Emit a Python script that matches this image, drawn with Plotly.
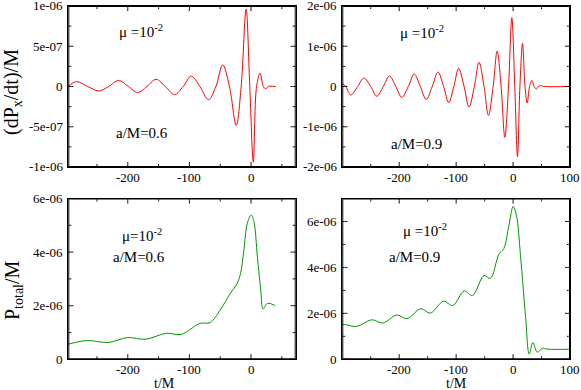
import plotly.graph_objects as go

# --- data ---
# top-left: dPx/dt, a/M = 0.6  (values in units of 1e-7)
t_px06 = [-297, -283, -265, -247, -231, -215, -199, -184, -169, -154, -139, -124, -110,
          -97, -83, -69, -57, -46, -35, -24, -16, -8, -2, 3.7, 9, 14.7, 20, 24, 28, 31, 40]
px06 = [0.0, 0.6, 0.0, -0.55, 0.0, 0.75, 0.0, -0.75, 0.0, 0.9, 0.0, -1.0, 0.0,
        1.3, 0.0, -1.65, 0.0, 2.7, 0.0, -4.85, 0.0, 9.6, 0.0, -9.4, 0.0, 1.65, 0.0, -0.3, 0.0, 0.05, 0.0]

# top-right: dPx/dt, a/M = 0.9  (units of 1e-6)
t_px09 = [-300, -294, -285, -273, -262, -250, -239.5, -228, -217, -206, -195.5, -184,
          -173.7, -163, -152.6, -142, -132, -122, -113, -104, -95.6, -86, -77.4, -68,
          -59.8, -51, -43.3, -35, -28, -21, -14.5, -8, -2.2, 3, 7.8, 12, 16.6, 21,
          24.8, 29, 33, 37, 40.7, 44, 48.3, 55, 100]
px09 = [0.08, 0.0, -0.21, 0.0, 0.21, 0.0, -0.24, 0.0, 0.26, 0.0, -0.27, 0.0,
        0.31, 0.0, -0.32, 0.0, 0.36, 0.0, -0.40, 0.0, 0.45, 0.0, -0.51, 0.0,
        0.60, 0.0, -0.72, 0.0, 0.88, 0.0, -1.26, 0.0, 1.71, 0.0, -1.74, 0.0, 1.07, 0.0,
        -0.41, 0.0, 0.15, 0.0, -0.06, 0.0, 0.02, 0.0, 0.0]

# bottom-left: P_total, a/M = 0.6  (units of 1e-6)
t_pt06 = [-297, -266.6, -231, -200.8, -170.6, -137.7, -113, -83, -66.5, -50, -33.6,
          -22.6, -17, -11.6, -6, 0.4, 4.8, 10.3, 15.8, 19.6, 26.7, 38.8]
pt06 = [0.56, 0.70, 0.63, 0.81, 0.75, 0.97, 0.93, 1.34, 1.37, 1.84, 2.46,
        2.83, 3.2, 4.07, 5.07, 5.38, 5.13, 3.83, 2.58, 1.88, 2.09, 2.01]

# bottom-right: P_total, a/M = 0.9  (units of 1e-6)
t_pt09 = [-300, -292, -274.7, -248.3, -228.9, -204.3, -186.6, -162, -145.5, -122, -106,
          -85.6, -71.5, -51, -39.8, -25, -16.3, -7.5, 0.2, 6, 13.1, 21.9, 28.4, 34.8,
          42.5, 51.3, 60, 100]
pt09 = [1.53, 1.50, 1.43, 1.72, 1.58, 1.93, 1.77, 2.2, 2.01, 2.53, 2.34,
        2.98, 2.77, 3.65, 3.52, 4.57, 4.82, 5.81, 6.66, 6.25, 4.5, 1.87, 0.23, 0.73,
        0.31, 0.48, 0.44, 0.44]

# tick values / labels
xl_ticks = [-200, -100, 0]
xr_ticks = [-200, -100, 0, 100]
x_minor = [-250, -150, -50, 50]
y_tl_ticks = [-1e-6, -5e-7, 0, 5e-7, 1e-6]
y_tl_text = ["-1e-06", "-5e-07", "0", "5e-07", "1e-06"]
y_tl_minor = [-7.5e-7, -2.5e-7, 2.5e-7, 7.5e-7]
y_tr_ticks = [-2e-6, -1e-6, 0, 1e-6, 2e-6]
y_tr_text = ["-2e-06", "-1e-06", "0", "1e-06", "2e-06"]
y_tr_minor = [-1.5e-6, -5e-7, 5e-7, 1.5e-6]
y_b_ticks = [0, 2e-6, 4e-6, 6e-6]
y_b_text = ["0", "2e-06", "4e-06", "6e-06"]
y_b_minor = [1e-6, 3e-6, 5e-6]

W, H = 581, 390
FONT = "Liberation Serif"
RED = "#ff0000"
GREEN = "#009600"
INK = "#000000"   # frame / tick colour

# panel frames, measured in pixels on the reference
LEFT_PX, RIGHT_PX = (68.3, 295.7), (342.3, 570.0)
TOP_PX, BOT_PX = (6.0, 167.0), (198.5, 359.3)

panels = [
    dict(n="", xr=[-296.5, 72.5], yr=[-1e-6, 1e-6], xpx=LEFT_PX, ypx=TOP_PX,
         xt=xl_ticks, xm=x_minor, yt=y_tl_ticks, ytext=y_tl_text, ym=y_tl_minor,
         x=t_px06, y=[v * 1e-7 for v in px06], color=RED),
    dict(n="2", xr=[-300, 100], yr=[-2e-6, 2e-6], xpx=RIGHT_PX, ypx=TOP_PX,
         xt=xr_ticks, xm=x_minor, yt=y_tr_ticks, ytext=y_tr_text, ym=y_tr_minor,
         x=t_px09, y=[v * 1e-6 for v in px09], color=RED),
    dict(n="3", xr=[-296.5, 72.5], yr=[0, 6e-6], xpx=LEFT_PX, ypx=BOT_PX,
         xt=xl_ticks, xm=x_minor, yt=y_b_ticks, ytext=y_b_text, ym=y_b_minor,
         x=t_pt06, y=[v * 1e-6 for v in pt06], color=GREEN),
    dict(n="4", xr=[-300, 100], yr=[0, 7e-6], xpx=RIGHT_PX, ypx=BOT_PX,
         xt=xr_ticks, xm=x_minor, yt=y_b_ticks, ytext=y_b_text, ym=y_b_minor,
         x=t_pt09, y=[v * 1e-6 for v in pt09], color=GREEN),
]

fig = go.Figure()
layout_axes = {}

for p in panels:
    xa, ya = "x" + p["n"], "y" + p["n"]
    x0, x1 = p["xr"]
    y0, y1 = p["yr"]
    wpx = p["xpx"][1] - p["xpx"][0]
    hpx = p["ypx"][1] - p["ypx"][0]
    ux = (x1 - x0) / wpx   # data units per pixel
    uy = (y1 - y0) / hpx

    layout_axes["xaxis" + p["n"]] = dict(
        anchor=ya, range=p["xr"], domain=[p["xpx"][0] / W, p["xpx"][1] / W],
        showgrid=False, zeroline=False, showline=True, linecolor=INK, linewidth=1,
        mirror=True, showticklabels=False, ticks="")
    layout_axes["yaxis" + p["n"]] = dict(
        anchor=xa, range=p["yr"], domain=[1 - p["ypx"][1] / H, 1 - p["ypx"][0] / H],
        showgrid=False, zeroline=False, showline=True, linecolor=INK, linewidth=1,
        mirror=True, showticklabels=False, ticks="")

    # the curve
    fig.add_trace(go.Scatter(x=p["x"], y=p["y"], mode="lines", xaxis=xa, yaxis=ya,
                             line=dict(color=p["color"], width=1, shape="spline"),
                             hoverinfo="skip"))

    # inward tick marks on all four sides (major 5px, minor 3px);
    # each tick is start / middle / end so it is drawn as a (straight) spline path
    tx, ty = [], []
    for vals, ln in ((p["xt"], 5), (p["xm"], 3)):
        for v in vals:
            tx += [v, v, v, None, v, v, v, None]
            ty += [y0, y0 + ln / 2 * uy, y0 + ln * uy, None,
                   y1, y1 - ln / 2 * uy, y1 - ln * uy, None]
    for vals, ln in ((p["yt"], 5), (p["ym"], 3)):
        for v in vals:
            tx += [x0, x0 + ln / 2 * ux, x0 + ln * ux, None,
                   x1, x1 - ln / 2 * ux, x1 - ln * ux, None]
            ty += [v, v, v, None, v, v, v, None]
    fig.add_trace(go.Scatter(x=tx, y=ty, mode="lines", xaxis=xa, yaxis=ya,
                             line=dict(color=INK, width=1, shape="spline", smoothing=0.001),
                             hoverinfo="skip"))

    # panel frame (2px wide, the clip keeps the inner half)
    fig.add_trace(go.Scatter(x=[x0, x1, x1, x0, x0], y=[y0, y0, y1, y1, y0], mode="lines",
                             xaxis=xa, yaxis=ya,
                             line=dict(color=INK, width=2, shape="spline", smoothing=0.001),
                             hoverinfo="skip"))

    # tick labels
    for v in p["xt"]:
        fig.add_annotation(text=str(v), x=v, xref=xa, y=0, yref=ya + " domain",
                           xanchor="center", yanchor="top", yshift=-1, showarrow=False,
                           font=dict(family=FONT, size=13, color="black"))
    for v, s in zip(p["yt"], p["ytext"]):
        fig.add_annotation(text=s, x=0, xref=xa + " domain", y=v, yref=ya,
                           xanchor="right", yanchor="middle", xshift=-3, showarrow=False,
                           font=dict(family=FONT, size=13, color="black"))

fig.update_layout(**layout_axes)


def label(text, x, y, size=15, angle=0):
    fig.add_annotation(text=text, x=x / W, y=1 - y / H, xref="paper", yref="paper",
                       showarrow=False, textangle=angle, xanchor="center", yanchor="middle",
                       font=dict(family=FONT, size=size, color="black"))


# in-panel labels
label("\u03bc =10<sup>-2</sup>", 141, 31)
label("a/M=0.6", 141.5, 133)
label("\u03bc =10<sup>-2</sup>", 422, 32)
label("a/M=0.9", 416.5, 144)
label("\u03bc=10<sup>-2</sup>", 142, 235)
label("a/M=0.6", 139, 256.5)
label("\u03bc =10<sup>-2</sup>", 425, 230)
label("a/M=0.9", 414, 256.5)

# axis titles
label("(dP<sub>x</sub>/dt)/M", 12, 92, size=20, angle=-90)
label("P<sub>total</sub>/M", 13, 290, size=20, angle=-90)
label("t/M", 164, 383, size=14)
label("t/M", 456, 383, size=14)

fig.update_layout(
    width=W, height=H,
    margin=dict(l=0, r=0, t=0, b=0),
    showlegend=False,
    template="none",
    font=dict(family=FONT, size=13, color="black"),
    plot_bgcolor="white",
    paper_bgcolor="white",
)

# drop the default 8px body margin so the figure sits at the page corner
fig.write_html("out.html", config={"displayModeBar": False},
               post_script="document.body.style.margin='0';")
